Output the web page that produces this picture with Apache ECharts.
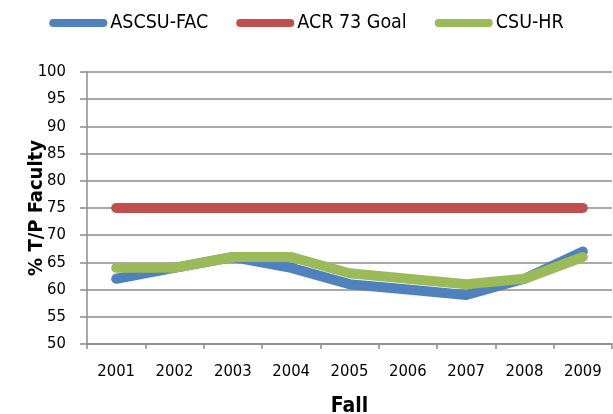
<!DOCTYPE html>
<html>
<head>
<meta charset="utf-8">
<script src="https://cdn.jsdelivr.net/npm/echarts@6/dist/echarts.min.js"></script>
<style>
  html, body { margin: 0; padding: 0; background: #fff; }
  #chart { width: 613px; height: 414px; }
</style>
</head>
<body>
<div id="chart"></div>
<script>
// Fall terms on the category axis
const years = ['2001', '2002', '2003', '2004', '2005', '2006', '2007', '2008', '2009'];
// Percent tenured/tenure-track faculty by source
const ascsuFac = [62, 64, 66, 64, 61, 60, 59, 62, 67];
const acrGoal = [75, 75, 75, 75, 75, 75, 75, 75, 75];
const csuHr = [64, 64, 66, 66, 63, 62, 61, 62, 66];

const FONT = "'DejaVu Sans Condensed', 'Liberation Sans', sans-serif";
const GRID_GRAY = '#8c8c8c';
// rounded bar used as the legend swatch
const capsule = 'path://M4,0 L54,0 A4,4 0 0 1 54,8 L4,8 A4,4 0 0 1 4,0 Z';

const chart = echarts.init(document.getElementById('chart'), null, { renderer: 'canvas' });

function lineSeries(name, data, color) {
  return {
    name: name,
    type: 'line',
    data: data,
    symbol: 'none',
    smooth: false,
    lineStyle: { color: color, width: 10, cap: 'round', join: 'round' },
    itemStyle: { color: color },
    emphasis: { disabled: true },
    animation: false
  };
}

chart.setOption({
  animation: false,
  backgroundColor: '#fff',
  textStyle: { fontFamily: FONT },
  legend: {
    top: 8,
    left: 'center',
    itemWidth: 58,
    itemHeight: 8,
    itemGap: 28,
    icon: capsule,
    textStyle: { fontFamily: FONT, fontSize: 19.5, color: '#000', padding: [0, 0, 0, -2] },
    data: ['ASCSU-FAC', 'ACR 73 Goal', 'CSU-HR']
  },
  grid: { left: 87, right: 1, top: 72, bottom: 70, containLabel: false, outerBoundsMode: 'none' },
  xAxis: {
    type: 'category',
    data: years,
    boundaryGap: true,
    name: 'Fall',
    nameLocation: 'middle',
    nameGap: 52,
    nameMoveOverlap: false,
    nameTextStyle: { fontFamily: FONT, fontSize: 21, fontWeight: 'bold', color: '#000' },
    axisLine: { lineStyle: { color: GRID_GRAY, width: 1.5 } },
    axisTick: { show: true, inside: false, length: 5, lineStyle: { color: GRID_GRAY, width: 1.5 } },
    axisLabel: { fontFamily: FONT, fontSize: 16.5, color: '#000', margin: 19 },
    splitLine: { show: false }
  },
  yAxis: {
    type: 'value',
    min: 50,
    max: 100,
    interval: 5,
    name: '% T/P Faculty',
    nameLocation: 'middle',
    nameGap: 40,
    nameRotate: 90,
    nameMoveOverlap: false,
    nameTextStyle: { fontFamily: FONT, fontSize: 20, fontWeight: 'bold', color: '#000' },
    axisLine: { show: true, lineStyle: { color: GRID_GRAY, width: 1.5 } },
    axisTick: { show: true, inside: false, length: 7, lineStyle: { color: GRID_GRAY, width: 1.5 } },
    axisLabel: { fontFamily: FONT, fontSize: 16.5, color: '#000', margin: 21 },
    splitLine: { show: true, lineStyle: { color: GRID_GRAY, width: 1.5 } }
  },
  series: [
    lineSeries('ASCSU-FAC', ascsuFac, '#4F81BD'),
    lineSeries('ACR 73 Goal', acrGoal, '#C0504D'),
    lineSeries('CSU-HR', csuHr, '#9BBB59')
  ]
});
</script>
</body>
</html>
